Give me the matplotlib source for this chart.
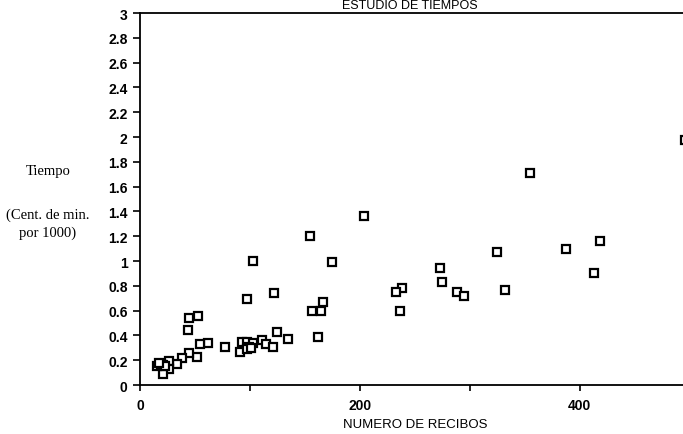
import matplotlib.pyplot as plt

# Datos: número de recibos vs tiempo (cent. de min. por 1000)
recibos = [496, 355, 204, 155, 103, 175, 418, 387, 325, 273, 275, 413,
           238, 233, 288, 295, 332, 236, 122, 97, 166, 156, 165, 45, 53,
           44, 162, 125, 135, 111, 115, 121, 93, 97, 103, 91, 99, 97, 101,
           77, 62, 55, 52, 45, 38, 34, 26, 26, 21, 15, 21, 19, 23, 17]
tiempo = [1.98, 1.71, 1.36, 1.20, 1.00, 0.99, 1.16, 1.10, 1.07, 0.94, 0.83,
          0.90, 0.78, 0.75, 0.75, 0.72, 0.77, 0.60, 0.74, 0.69, 0.67, 0.60,
          0.60, 0.54, 0.56, 0.44, 0.39, 0.43, 0.37, 0.36, 0.33, 0.31, 0.35,
          0.35, 0.34, 0.27, 0.31, 0.29, 0.30, 0.31, 0.34, 0.33, 0.23, 0.26,
          0.22, 0.17, 0.19, 0.13, 0.09, 0.15, 0.16, 0.17, 0.15, 0.18]

y_ticks = [i / 5 for i in range(16)]
y_labels = ["0", "0.2", "0.4", "0.6", "0.8", "1", "1.2", "1.4", "1.6", "1.8",
            "2", "2.2", "2.4", "2.6", "2.8", "3"]
x_ticks = [0, 200, 400]

fig = plt.figure(figsize=(6.83, 4.35), dpi=100)
ax = fig.add_axes([0.205, 0.1126, 0.805, 0.855])

ax.plot(recibos, tiempo, linestyle='none', marker='s', markersize=5.8,
        markerfacecolor='white', markeredgecolor='black', markeredgewidth=1.6,
        clip_on=False)

ax.set_xlim(0, 500)
ax.set_ylim(0, 3)

ax.set_yticks(y_ticks)
ax.set_yticklabels(y_labels, fontfamily='Liberation Sans', fontsize=10,
                   fontweight='bold')
ax.set_xticks(x_ticks)
ax.set_xticks([100, 300], minor=True)
ax.set_xticklabels([str(v) for v in x_ticks], fontfamily='Liberation Sans',
                   fontsize=10, fontweight='bold')
ax.tick_params(axis='y', direction='out', length=5, width=1.2, pad=4)
ax.tick_params(axis='x', which='both', direction='out', length=4, width=1.2,
               pad=5)

for side in ['left', 'top', 'bottom']:
    ax.spines[side].set_linewidth(1.3)
ax.spines['right'].set_visible(False)

ax.set_xlabel("NUMERO DE RECIBOS", fontfamily='Liberation Sans', fontsize=9.5,
              labelpad=5)

# Título en la parte superior
fig.text(0.6, 0.999, "ESTUDIO DE TIEMPOS", ha='center', va='top',
         fontfamily='Liberation Sans', fontsize=9)

# Etiqueta del eje Y en letra serif
fig.text(0.07, 0.605, "Tiempo", ha='center', va='center',
         fontfamily='Liberation Serif', fontsize=10.5)
fig.text(0.07, 0.505, "(Cent. de min.", ha='center', va='center',
         fontfamily='Liberation Serif', fontsize=10.5)
fig.text(0.07, 0.463, "por 1000)", ha='center', va='center',
         fontfamily='Liberation Serif', fontsize=10.5)

fig.savefig("out.png", dpi=100)
